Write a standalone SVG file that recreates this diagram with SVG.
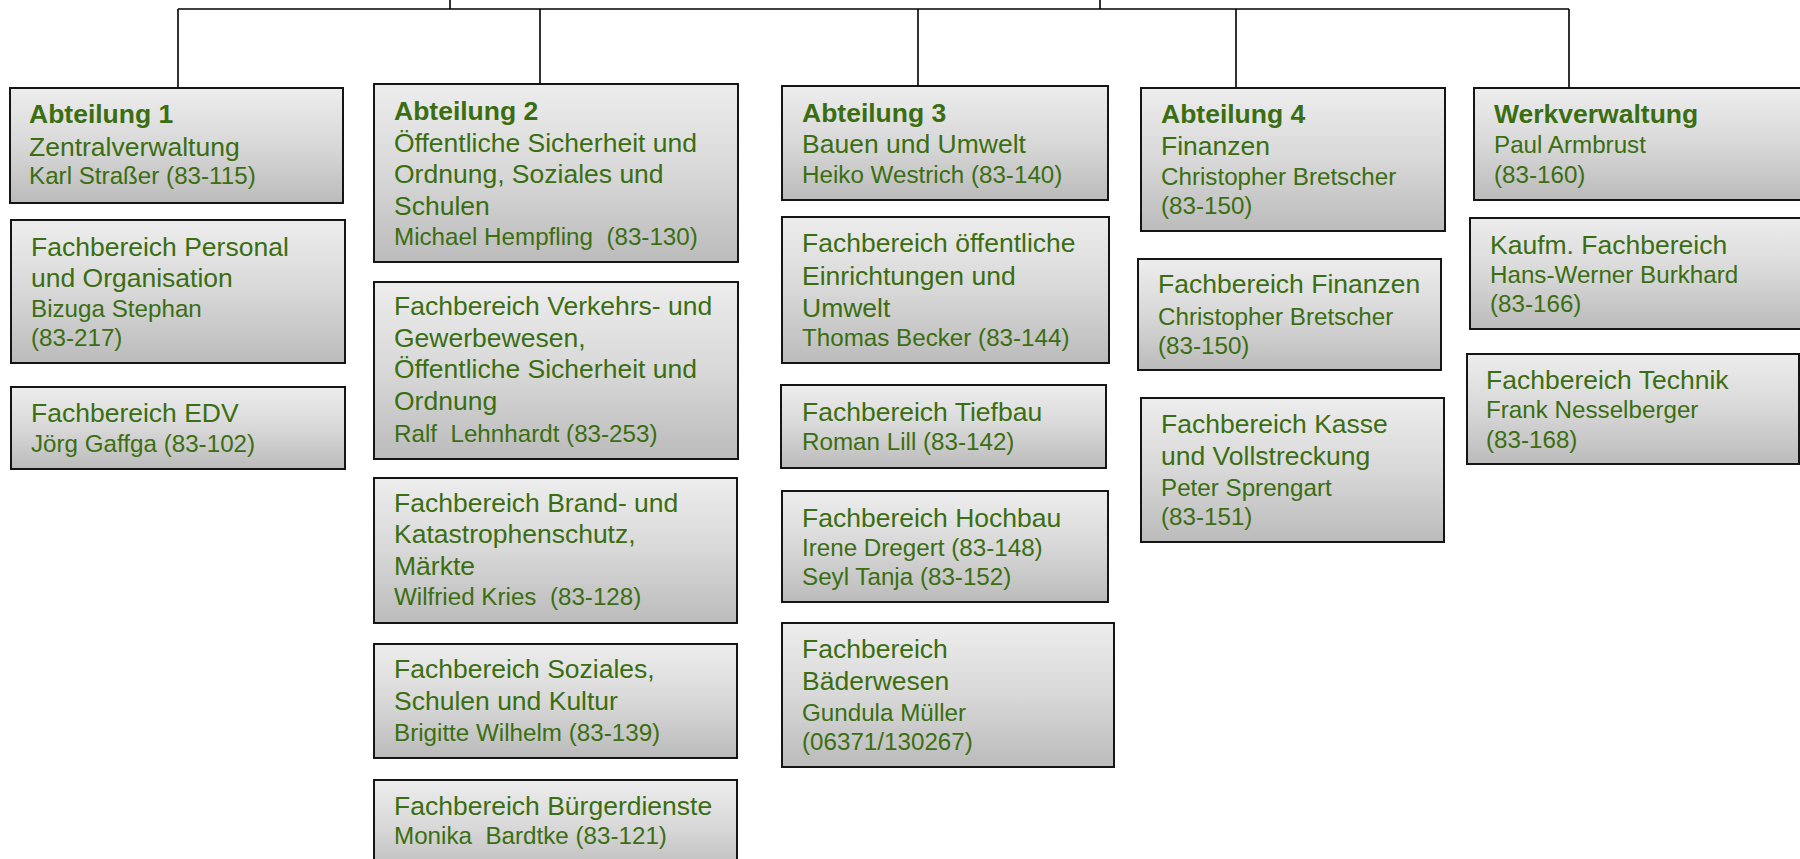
<svg xmlns="http://www.w3.org/2000/svg" width="1800" height="859" viewBox="0 0 1800 859">
<defs>
<linearGradient id="g" x1="0" y1="0" x2="0" y2="1">
<stop offset="0" stop-color="#ededed"/>
<stop offset="0.5" stop-color="#d8d8d8"/>
<stop offset="1" stop-color="#bbbbbb"/>
</linearGradient>
</defs>
<style>
.box{fill:url(#g);stroke:#151515;stroke-width:2}
.t{font-family:"Liberation Sans",Arial,sans-serif;font-size:26.5px;fill:#3b6e12}
.b{font-family:"Liberation Sans",Arial,sans-serif;font-size:26.5px;font-weight:bold;fill:#3b6e12}
.n{font-family:"Liberation Sans",Arial,sans-serif;font-size:24.2px;fill:#3b6e12}
.c{stroke:#000;stroke-width:1.6;fill:none}
</style>
<rect width="1800" height="859" fill="#fff"/>
<g id="connectors">
<path class="c" d="M178 9H1569"/>
<path class="c" d="M450 0V9M1100 0V9"/>
<path class="c" d="M178 9V88M540 9V84M918 9V86M1236 9V88M1569 9V88"/>
</g>
<g id="abt1">
<rect class="box" x="10" y="88" width="333" height="115"/>
<text class="b" x="29" y="123">Abteilung 1</text>
<text class="t" x="29" y="156">Zentralverwaltung</text>
<text class="n" x="29" y="184">Karl Straßer (83-115)</text>
</g>
<g id="fb-personal">
<rect class="box" x="11" y="220" width="334" height="143"/>
<text class="t" x="31" y="256">Fachbereich Personal</text>
<text class="t" x="31" y="287">und Organisation</text>
<text class="n" x="31" y="317">Bizuga Stephan</text>
<text class="n" x="31" y="346">(83-217)</text>
</g>
<g id="fb-edv">
<rect class="box" x="11" y="387" width="334" height="82"/>
<text class="t" x="31" y="422">Fachbereich EDV</text>
<text class="n" x="31" y="452">Jörg Gaffga (83-102)</text>
</g>
<g id="abt2">
<rect class="box" x="374" y="84" width="364" height="178"/>
<text class="b" x="394" y="120">Abteilung 2</text>
<text class="t" x="394" y="152">Öffentliche Sicherheit und</text>
<text class="t" x="394" y="183">Ordnung, Soziales und</text>
<text class="t" x="394" y="215">Schulen</text>
<text class="n" x="394" y="245" xml:space="preserve">Michael Hempfling  (83-130)</text>
</g>
<g id="fb-verkehr">
<rect class="box" x="374" y="282" width="364" height="177"/>
<text class="t" x="394" y="315">Fachbereich Verkehrs- und</text>
<text class="t" x="394" y="347">Gewerbewesen,</text>
<text class="t" x="394" y="378">Öffentliche Sicherheit und</text>
<text class="t" x="394" y="410">Ordnung</text>
<text class="n" x="394" y="442" xml:space="preserve">Ralf  Lehnhardt (83-253)</text>
</g>
<g id="fb-brand">
<rect class="box" x="374" y="478" width="363" height="145"/>
<text class="t" x="394" y="512">Fachbereich Brand- und</text>
<text class="t" x="394" y="543">Katastrophenschutz,</text>
<text class="t" x="394" y="575">Märkte</text>
<text class="n" x="394" y="605" xml:space="preserve">Wilfried Kries  (83-128)</text>
</g>
<g id="fb-soziales">
<rect class="box" x="374" y="644" width="363" height="114"/>
<text class="t" x="394" y="678">Fachbereich Soziales,</text>
<text class="t" x="394" y="710">Schulen und Kultur</text>
<text class="n" x="394" y="741">Brigitte Wilhelm (83-139)</text>
</g>
<g id="fb-buerger">
<rect class="box" x="374" y="780" width="363" height="95"/>
<text class="t" x="394" y="815">Fachbereich Bürgerdienste</text>
<text class="n" x="394" y="844" xml:space="preserve">Monika  Bardtke (83-121)</text>
</g>
<g id="abt3">
<rect class="box" x="782" y="86" width="326" height="114"/>
<text class="b" x="802" y="122">Abteilung 3</text>
<text class="t" x="802" y="153">Bauen und Umwelt</text>
<text class="n" x="802" y="183">Heiko Westrich (83-140)</text>
</g>
<g id="fb-oeffentlich">
<rect class="box" x="782" y="217" width="327" height="146"/>
<text class="t" x="802" y="252">Fachbereich öffentliche</text>
<text class="t" x="802" y="285">Einrichtungen und</text>
<text class="t" x="802" y="317">Umwelt</text>
<text class="n" x="802" y="346">Thomas Becker (83-144)</text>
</g>
<g id="fb-tiefbau">
<rect class="box" x="781" y="385" width="325" height="83"/>
<text class="t" x="802" y="421">Fachbereich Tiefbau</text>
<text class="n" x="802" y="450">Roman Lill (83-142)</text>
</g>
<g id="fb-hochbau">
<rect class="box" x="782" y="491" width="326" height="111"/>
<text class="t" x="802" y="527">Fachbereich Hochbau</text>
<text class="n" x="802" y="556">Irene Dregert (83-148)</text>
<text class="n" x="802" y="585">Seyl Tanja (83-152)</text>
</g>
<g id="fb-baeder">
<rect class="box" x="782" y="623" width="332" height="144"/>
<text class="t" x="802" y="658">Fachbereich</text>
<text class="t" x="802" y="690">Bäderwesen</text>
<text class="n" x="802" y="721">Gundula Müller</text>
<text class="n" x="802" y="750">(06371/130267)</text>
</g>
<g id="abt4">
<rect class="box" x="1141" y="88" width="304" height="143"/>
<text class="b" x="1161" y="123">Abteilung 4</text>
<text class="t" x="1161" y="155">Finanzen</text>
<text class="n" x="1161" y="185">Christopher Bretscher</text>
<text class="n" x="1161" y="214">(83-150)</text>
</g>
<g id="fb-finanzen">
<rect class="box" x="1138" y="259" width="303" height="111"/>
<text class="t" x="1158" y="293">Fachbereich Finanzen</text>
<text class="n" x="1158" y="325">Christopher Bretscher</text>
<text class="n" x="1158" y="354">(83-150)</text>
</g>
<g id="fb-kasse">
<rect class="box" x="1141" y="398" width="303" height="144"/>
<text class="t" x="1161" y="433">Fachbereich Kasse</text>
<text class="t" x="1161" y="465">und Vollstreckung</text>
<text class="n" x="1161" y="496">Peter Sprengart</text>
<text class="n" x="1161" y="525">(83-151)</text>
</g>
<g id="werkverwaltung">
<rect class="box" x="1474" y="88" width="340" height="112"/>
<text class="b" x="1494" y="123">Werkverwaltung</text>
<text class="n" x="1494" y="153">Paul Armbrust</text>
<text class="n" x="1494" y="183">(83-160)</text>
</g>
<g id="fb-kaufm">
<rect class="box" x="1470" y="218" width="344" height="111"/>
<text class="t" x="1490" y="254">Kaufm. Fachbereich</text>
<text class="n" x="1490" y="283">Hans-Werner Burkhard</text>
<text class="n" x="1490" y="312">(83-166)</text>
</g>
<g id="fb-technik">
<rect class="box" x="1467" y="354" width="332" height="110"/>
<text class="t" x="1486" y="389">Fachbereich Technik</text>
<text class="n" x="1486" y="418">Frank Nesselberger</text>
<text class="n" x="1486" y="448">(83-168)</text>
</g>
</svg>
